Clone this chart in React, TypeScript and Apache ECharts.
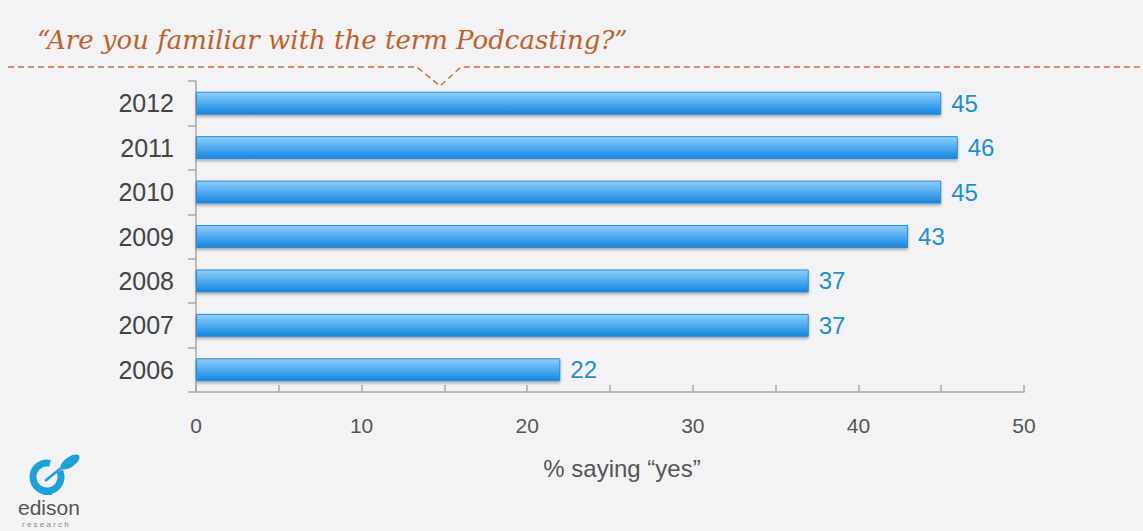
import React, { useEffect, useRef } from "react";
import * as echarts from "echarts";

const years = ["2006", "2007", "2008", "2009", "2010", "2011", "2012"];
const familiarPct = [22, 37, 37, 43, 45, 46, 45];
const xMin = 0;
const xMax = 50;
const xInterval = 10;
const titleText = "“Are you familiar with the term Podcasting?”";
const axisTitle = "% saying “yes”";

export default function App() {
  const ref = useRef<HTMLDivElement>(null);
  useEffect(() => {
    if (!ref.current) return;
    const chart = echarts.init(ref.current, null, { renderer: "svg" });
    const orange = "#cf6d34";
    const logoBlue = "#1da1dc";
    chart.setOption({
      animation: false,
      backgroundColor: "#f3f2f4",
      grid: { left: 196, right: 119, top: 81, bottom: 139 },
      xAxis: {
        type: "value",
        min: xMin,
        max: xMax,
        interval: xInterval,
        name: axisTitle,
        nameLocation: "middle",
        nameGap: 64,
        nameTextStyle: { fontFamily: "Liberation Sans", fontSize: 24, color: "#555", padding: [0, 0, 0, 24] },
        axisLine: { show: true, lineStyle: { color: "#a8a8a8", width: 1.5 } },
        axisTick: { show: true, inside: true, length: 7, lineStyle: { color: "#a8a8a8", width: 1.5 } },
        minorTick: { show: true, splitNumber: 2, length: 7, lineStyle: { color: "#a8a8a8", width: 1.5 } },
        splitLine: { show: false },
        axisLabel: { fontFamily: "Liberation Sans", fontSize: 21, color: "#555", margin: 23 },
      },
      yAxis: {
        type: "category",
        data: years,
        axisLine: { show: true, lineStyle: { color: "#a8a8a8", width: 1.5 } },
        axisTick: { show: true, length: 8, lineStyle: { color: "#a8a8a8", width: 1.5 } },
        axisLabel: { fontFamily: "Liberation Sans", fontSize: 25, color: "#444", margin: 22 },
      },
      series: [
        {
          type: "bar",
          data: familiarPct,
          barWidth: 23,
          itemStyle: {
            color: new echarts.graphic.LinearGradient(0, 0, 0, 1, [
              { offset: 0, color: "#92cffb" },
              { offset: 0.5, color: "#4eabf1" },
              { offset: 1, color: "#1784dc" },
            ]),
            borderColor: "#2a8ad4",
            borderWidth: 1,
            shadowColor: "rgba(0,0,0,0.3)",
            shadowBlur: 3,
            shadowOffsetY: 2,
          },
          label: {
            show: true,
            position: "right",
            distance: 10,
            fontFamily: "Liberation Sans",
            fontSize: 24,
            color: "#1b8fd2",
          },
        },
      ],
      graphic: [
        {
          type: "text",
          left: 37,
          top: 27,
          style: {
            text: titleText,
            fontFamily: "DejaVu Serif",
            fontStyle: "italic",
            fontSize: 26,
            fill: "#c0602a",
          },
        },
        {
          type: "polyline",
          shape: { points: [[8, 67], [417, 67], [440, 86], [461, 67], [1143, 67]] },
          style: { stroke: orange, lineWidth: 1.5, lineDash: [6, 4], fill: "none" },
        },
        {
          type: "arc",
          shape: { cx: 47, cy: 477, r: 14, startAngle: -0.45, endAngle: -1.35, clockwise: true },
          style: { stroke: logoBlue, lineWidth: 7, fill: "none" },
        },
        {
          type: "ellipse",
          x: 70,
          y: 462,
          rotation: 0.6,
          shape: { cx: 0, cy: 0, rx: 11, ry: 5 },
          style: { fill: logoBlue },
        },
        {
          type: "line",
          shape: { x1: 45, y1: 481, x2: 61, y2: 468 },
          style: { stroke: logoBlue, lineWidth: 2.5 },
        },
        {
          type: "rect",
          shape: { x: 43, y: 493, width: 9, height: 2 },
          style: { fill: logoBlue },
        },
        {
          type: "text",
          left: 18,
          top: 497,
          style: { text: "edison", fontFamily: "Liberation Sans", fontSize: 21, fill: "#555" },
        },
        {
          type: "text",
          left: 22,
          top: 520,
          style: { text: "r e s e a r c h", fontFamily: "Liberation Sans", fontSize: 8, fill: "#888" },
        },
      ],
    });
    return () => chart.dispose();
  }, []);
  return (
    <div
      ref={ref}
      style={{ position: "fixed", left: 0, top: 0, width: 1143, height: 531 }}
    />
  );
}
